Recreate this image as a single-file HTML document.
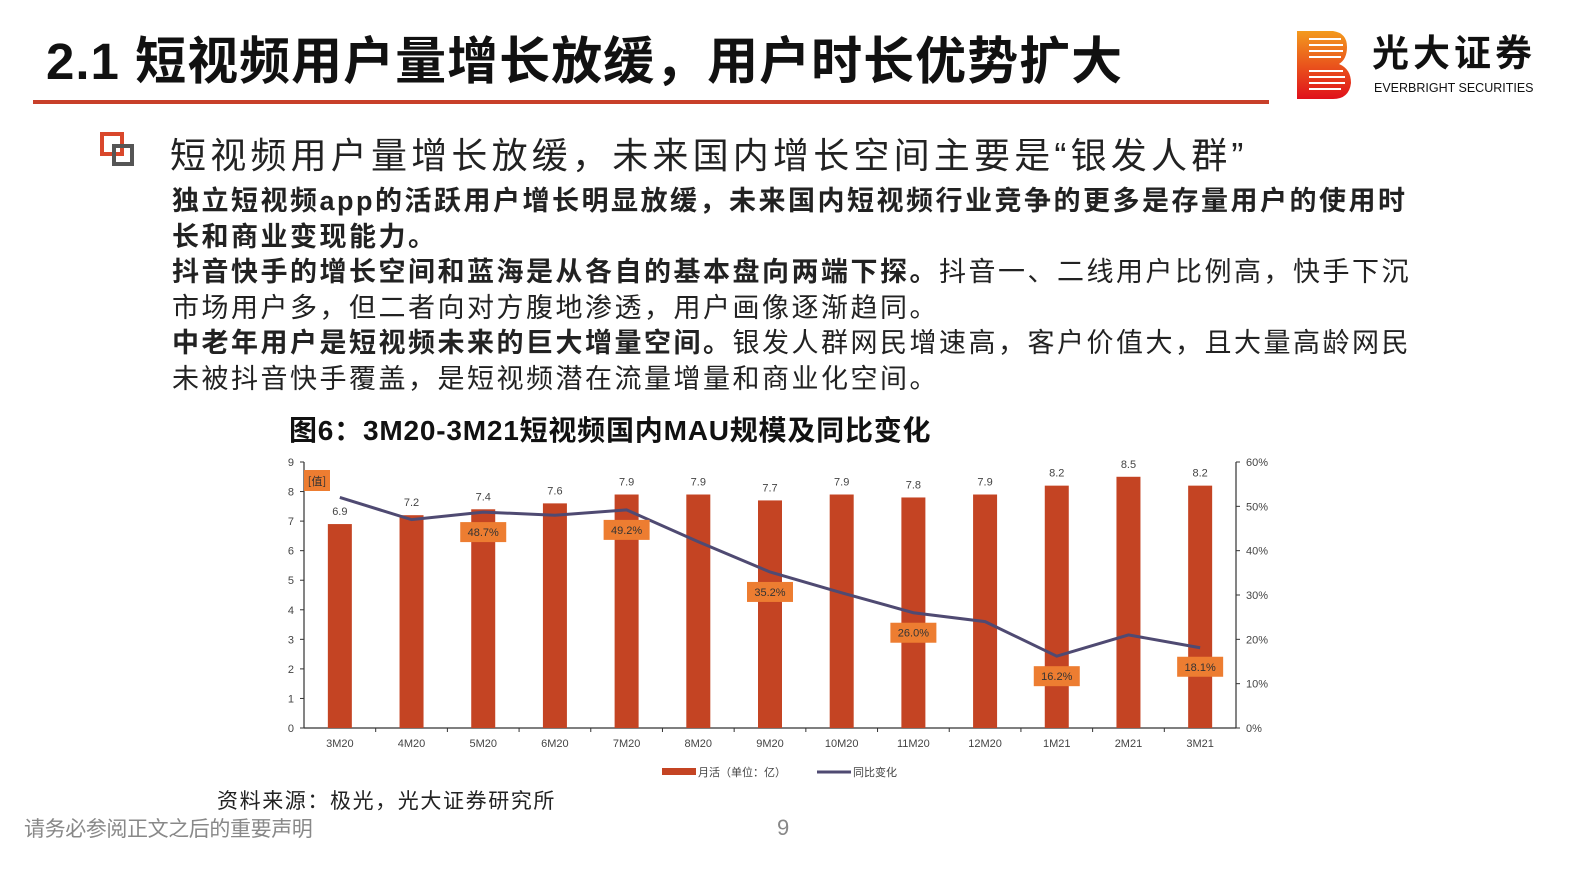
<!DOCTYPE html>
<html><head><meta charset="utf-8"><style>
body{margin:0;width:1587px;height:892px;background:#fff;font-family:"Liberation Sans","Noto Sans CJK SC",sans-serif;position:relative;overflow:hidden}
.a{position:absolute;white-space:nowrap}
</style></head><body>
<div class="a" style="left:46px;top:20px;font-size:51px;font-weight:bold;color:#111;letter-spacing:1px">2.1 短视频用户量增长放缓，用户时长优势扩大</div>
<div class="a" style="left:33px;top:100px;width:1236px;height:4px;background:#c8402a"></div>
<svg class="a" style="left:1297px;top:31px" width="54" height="68"><defs><linearGradient id="lg" x1="0" y1="0" x2="0" y2="1"><stop offset="0" stop-color="#f39a1e"/><stop offset="1" stop-color="#e0101b"/></linearGradient></defs><path d="M0 0H36Q50 2 50 16Q50 28 42 33Q54 38 54 52Q52 68 36 68H0Z" fill="url(#lg)"/><g stroke="#fff" stroke-width="2"><line x1="12" y1="8" x2="44" y2="8"/><line x1="12" y1="14" x2="46" y2="14"/><line x1="12" y1="20" x2="46" y2="20"/><line x1="12" y1="26" x2="44" y2="26"/><line x1="12" y1="40" x2="46" y2="40"/><line x1="12" y1="46" x2="48" y2="46"/><line x1="12" y1="52" x2="48" y2="52"/><line x1="12" y1="58" x2="44" y2="58"/></g></svg>
<div class="a" style="left:1372px;top:32px;font-size:37px;line-height:44px;font-weight:bold;color:#111;letter-spacing:4px">光大证券</div>
<div class="a" style="left:1374px;top:81px;font-size:12.5px;color:#111">EVERBRIGHT SECURITIES</div>
<div class="a" style="left:100px;top:132px;width:16px;height:16px;border:4px solid #d9472b;"></div>
<div class="a" style="left:112px;top:144px;width:14px;height:14px;border:4px solid #555;"></div>
<div class="a" style="left:170px;top:127px;font-size:36px;color:#222;letter-spacing:4.2px">短视频用户量增长放缓，未来国内增长空间主要是“银发人群”</div>
<div class="a" style="left:172px;top:184px;font-size:27px;line-height:35.5px;color:#222;white-space:normal;width:1245px;letter-spacing:2.5px">
<b>独立短视频app的活跃用户增长明显放缓，未来国内短视频行业竞争的更多是存量用户的使用时长和商业变现能力。</b><br>
<b>抖音快手的增长空间和蓝海是从各自的基本盘向两端下探。</b>抖音一、二线用户比例高，快手下沉市场用户多，但二者向对方腹地渗透，用户画像逐渐趋同。<br>
<b>中老年用户是短视频未来的巨大增量空间。</b>银发人群网民增速高，客户价值大，且大量高龄网民未被抖音快手覆盖，是短视频潜在流量增量和商业化空间。</div>
<div class="a" style="left:289px;top:409px;font-size:28px;font-weight:bold;color:#111;letter-spacing:0.8px">图6：3M20-3M21短视频国内MAU规模及同比变化</div>
<svg class="a" id="chart" style="left:0;top:0" width="1587" height="892"></svg>
<div class="a" style="left:217px;top:785px;font-size:21px;color:#222;letter-spacing:1.6px">资料来源：极光，光大证券研究所</div>
<div class="a" style="left:24px;top:813px;font-size:21px;color:#888;letter-spacing:-0.4px">请务必参阅正文之后的重要声明</div>
<div class="a" style="left:777px;top:815px;font-size:22px;color:#888">9</div>
<script>
const categories=["3M20","4M20","5M20","6M20","7M20","8M20","9M20","10M20","11M20","12M20","1M21","2M21","3M21"];
const mau=[6.9,7.2,7.4,7.6,7.9,7.9,7.7,7.9,7.8,7.9,8.2,8.5,8.2];
const yoy=[52.0,47.0,48.7,48.0,49.2,42.0,35.2,30.5,26.0,24.0,16.2,21.0,18.1];
const yoyLabels=[null,null,"48.7%",null,"49.2%",null,"35.2%",null,"26.0%",null,"16.2%",null,"18.1%"];
const leftTicks=[0,1,2,3,4,5,6,7,8,9];
const rightTicks=[0,10,20,30,40,50,60];
const svg=document.getElementById('chart');const NS='http://www.w3.org/2000/svg';
const X0=304,X1=1236,Y0=728,Y1=462;
const step=(X1-X0)/categories.length;
const xc=i=>X0+step*(i+0.5);
const yl=v=>Y0-(v/9)*(Y0-Y1);
const yr=v=>Y0-(v/60)*(Y0-Y1);
function mk(t,a,txt){const e=document.createElementNS(NS,t);for(const k in a)e.setAttribute(k,a[k]);if(txt!=null)e.textContent=txt;svg.appendChild(e);return e;}
let e;
e=mk('line',{x1:X0,y1:Y1,x2:X0,y2:Y0,stroke:'#333','stroke-width':1.2});

e=mk('line',{x1:X1,y1:Y1,x2:X1,y2:Y0,stroke:'#333','stroke-width':1.2});

e=mk('line',{x1:X0,y1:Y0,x2:X1,y2:Y0,stroke:'#333','stroke-width':1.2});

leftTicks.forEach(v=>{mk('line',{x1:X0-4,y1:yl(v),x2:X0,y2:yl(v),stroke:'#333'});
e=mk('text',{x:X0-10,y:yl(v)+4,'font-size':11,fill:'#444','text-anchor':'end'},v);
});
rightTicks.forEach(v=>{mk('line',{x1:X1,y1:yr(v),x2:X1+4,y2:yr(v),stroke:'#333'});
e=mk('text',{x:X1+10,y:yr(v)+4,'font-size':11,fill:'#444'},v+'%');
});
categories.forEach((c,i)=>{
 if(i>0)mk('line',{x1:X0+step*i,y1:Y0,x2:X0+step*i,y2:Y0+4,stroke:'#333'});
 e=mk('rect',{x:xc(i)-12,y:yl(mau[i]),width:24,height:Y0-yl(mau[i]),fill:'#c44423'});
 
 e=mk('text',{x:xc(i),y:yl(mau[i])-9,'font-size':11,fill:'#444','text-anchor':'middle'},mau[i].toFixed(1));
 
 e=mk('text',{x:xc(i),y:Y0+19,'font-size':11,fill:'#444','text-anchor':'middle'},c);
 
});
e=mk('polyline',{points:yoy.map((v,i)=>xc(i)+','+yr(v)).join(' '),fill:'none',stroke:'#4f4a72','stroke-width':3});

yoyLabels.forEach((l,i)=>{if(!l)return;const y=yr(yoy[i])+(i==12?19:20);
 e=mk('rect',{x:xc(i)-23,y:y-10,width:46,height:20,fill:'#ed7d31'});
 
 e=mk('text',{x:xc(i),y:y+4,'font-size':11,fill:'#333','text-anchor':'middle'},l);
 });
e=mk('rect',{x:304,y:470,width:26,height:21,fill:'#ed7d31'});

e=mk('text',{x:317,y:485,'font-size':11,fill:'#333','text-anchor':'middle','font-family':'Noto Sans CJK SC'},'[值]');

e=mk('rect',{x:662,y:768,width:34,height:7,fill:'#c44423'});

e=mk('text',{x:698,y:776,'font-size':11,fill:'#444'},'月活（单位：亿）');

e=mk('line',{x1:817,y1:772,x2:851,y2:772,stroke:'#4f4a72','stroke-width':3});

e=mk('text',{x:853,y:776,'font-size':11,fill:'#444'},'同比变化');

</script>
</body></html>
